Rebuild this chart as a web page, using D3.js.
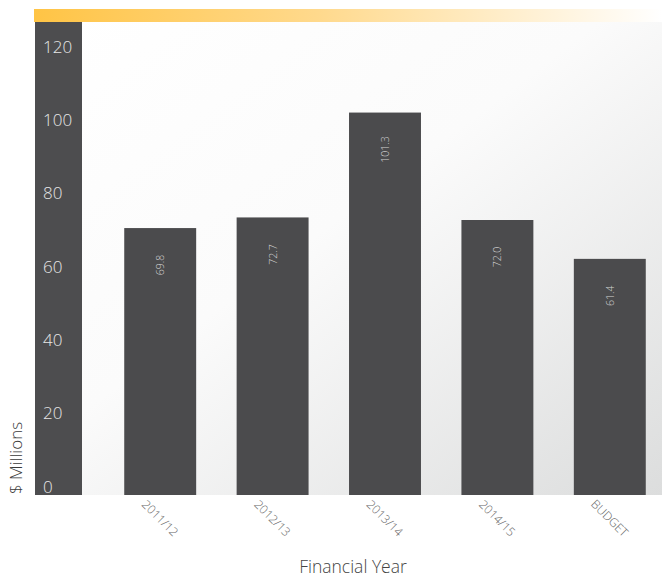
<!DOCTYPE html>
<html>
<head>
<meta charset="utf-8">
<script src="https://cdn.jsdelivr.net/npm/d3@7"></script>
<style>
  html, body { margin: 0; padding: 0; background: #ffffff; }
  svg { display: block; }
  text { font-family: "Open Sans", Lato, sans-serif; font-weight: 300; }
</style>
</head>
<body>
<svg id="chart" width="662" height="578"></svg>
<script>
// Capital expenditure by financial year ($ millions)
const categories = ["2011/12", "2012/13", "2013/14", "2014/15", "BUDGET"];
const values = [69.8, 72.7, 101.3, 72.0, 61.4];
const valueLabels = ["69.8", "72.7", "101.3", "72.0", "61.4"];
const yTicks = [0, 20, 40, 60, 80, 100, 120];

const svg = d3.select("#chart");
const W = 662, H = 578;

// plot panel
const panel = { left: 35, right: 662, top: 22, bottom: 495 };
const axisStripWidth = 47;

const defs = svg.append("defs");

const topGrad = defs.append("linearGradient").attr("id", "topGrad")
  .attr("x1", "0%").attr("x2", "100%").attr("y1", "0%").attr("y2", "0%");
topGrad.append("stop").attr("offset", "0%").attr("stop-color", "#ffc445");
topGrad.append("stop").attr("offset", "45%").attr("stop-color", "#ffd98c");
topGrad.append("stop").attr("offset", "100%").attr("stop-color", "#ffffff");

const bgGrad = defs.append("linearGradient").attr("id", "bgGrad")
  .attr("x1", "0%").attr("y1", "0%").attr("x2", "100%").attr("y2", "100%");
bgGrad.append("stop").attr("offset", "0%").attr("stop-color", "#ffffff");
bgGrad.append("stop").attr("offset", "45%").attr("stop-color", "#fbfbfb");
bgGrad.append("stop").attr("offset", "100%").attr("stop-color", "#dcdddd");

// scales
const x = d3.scaleBand()
  .domain(categories)
  .range([104, 666])
  .paddingInner(0.36)
  .paddingOuter(0.18);

const y = d3.scaleLinear()
  .domain([-3, 126])
  .range([panel.bottom, panel.top]);

// backgrounds
svg.append("rect")
  .attr("x", panel.left).attr("y", panel.top)
  .attr("width", panel.right - panel.left).attr("height", panel.bottom - panel.top)
  .attr("fill", "url(#bgGrad)");

svg.append("rect")
  .attr("x", 34).attr("y", 9)
  .attr("width", W - 34).attr("height", 13)
  .attr("fill", "url(#topGrad)");

svg.append("rect")
  .attr("x", panel.left).attr("y", panel.top)
  .attr("width", axisStripWidth).attr("height", panel.bottom - panel.top)
  .attr("fill", "#4d4d4f");

// y axis labels on the dark strip
const yAxis = d3.axisLeft(y).tickValues(yTicks).tickSize(0).tickPadding(0);
const yG = svg.append("g")
  .attr("transform", `translate(${panel.left + 8},2)`)
  .call(yAxis);
yG.select(".domain").remove();
yG.selectAll("text")
  .attr("text-anchor", "start")
  .attr("x", 0)
  .attr("dy", "0.36em")
  .attr("fill", "#e6e6e6")
  .style("font-size", "17px")
  .style("font-weight", "300")
  .style("font-family", "'Open Sans', Lato, sans-serif");

// bars
const bars = svg.append("g");
bars.selectAll("rect")
  .data(values)
  .join("rect")
  .attr("x", (d, i) => x(categories[i]))
  .attr("y", d => y(d))
  .attr("width", x.bandwidth())
  .attr("height", d => y.range()[0] - y(d))
  .attr("fill", "#4b4b4d");

// value labels inside the bars, reading upward
bars.selectAll("text")
  .data(values)
  .join("text")
  .attr("transform", (d, i) =>
    `translate(${x(categories[i]) + x.bandwidth() / 2},${y(d) + 37}) rotate(-90)`)
  .attr("text-anchor", "middle")
  .attr("dominant-baseline", "central")
  .attr("fill", "#d2d2d2")
  .style("font-size", "10.5px")
  .text((d, i) => valueLabels[i]);

// x axis labels
const xAxis = d3.axisBottom(x).tickSize(0).tickPadding(0);
const xG = svg.append("g")
  .attr("transform", `translate(0,${panel.bottom})`)
  .call(xAxis);
xG.select(".domain").remove();
xG.selectAll("text")
  .attr("y", 0).attr("dy", 0)
  .attr("transform", "translate(0,23) rotate(45)")
  .attr("text-anchor", "middle")
  .attr("dominant-baseline", "central")
  .attr("fill", "#666666")
  .style("font-size", "12px")
  .style("font-weight", "300")
  .style("font-family", "'Open Sans', Lato, sans-serif");

// axis titles
svg.append("text")
  .attr("transform", `translate(22,${panel.bottom - 1}) rotate(-90)`)
  .attr("text-anchor", "start")
  .attr("fill", "#3a3a3a")
  .style("font-size", "17px")
  .text("$ Millions");

svg.append("text")
  .attr("x", 353).attr("y", 573)
  .attr("text-anchor", "middle")
  .attr("fill", "#444444")
  .style("font-size", "17.5px")
  .text("Financial Year");
</script>
</body>
</html>
